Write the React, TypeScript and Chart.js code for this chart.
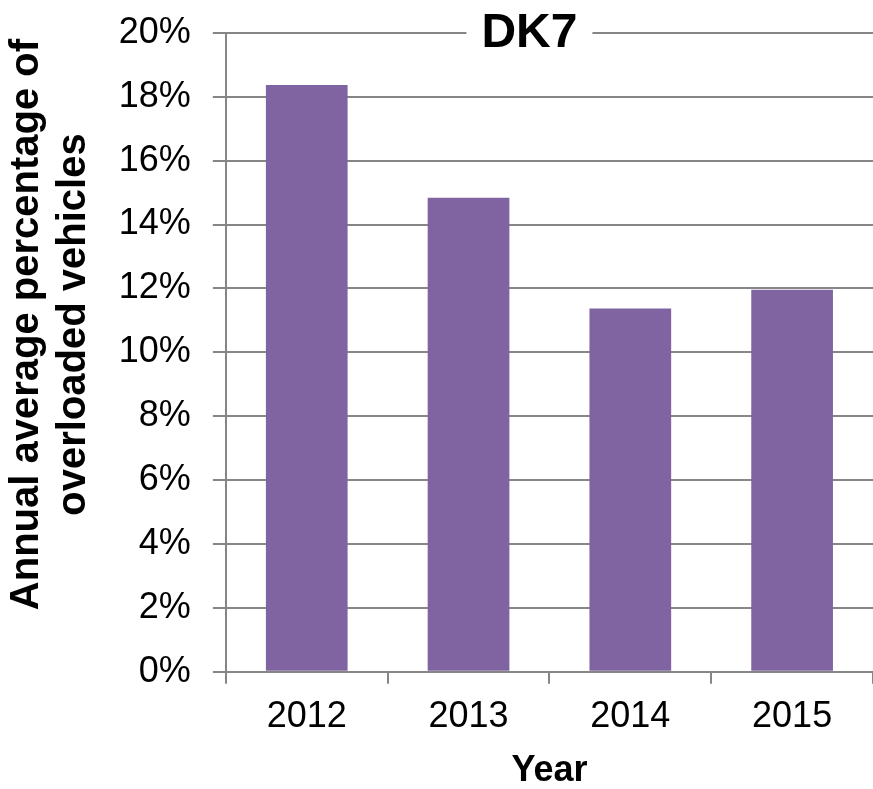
import React, { useEffect, useRef } from "react";
import { Chart, registerables } from "chart.js";

Chart.register(...registerables);

const categories = ["2012", "2013", "2014", "2015"];
const overloadedPct = [18.37, 14.84, 11.37, 11.96];
const yTicksMin = 0;
const yTicksMax = 20;
const yTickStep = 2;
const chartTitle = "DK7";
const yAxisTitle = ["Annual average percentage of", "overloaded vehicles"];
const xAxisTitle = "Year";

const GRID = "#868686";
const BAR = "#8064A2";
const FONT = "'Liberation Sans', Arial, sans-serif";
// leading spacing nudges the rotated y title slightly toward the top, as in the original
const Y_TITLE_SHIFT = "\u00a0\u00a0\u00a0\u00a0\u00a0";

const overlayTitle = {
  id: "overlayTitle",
  afterDraw(chart: any) {
    const { ctx, chartArea, scales } = chart;
    const y = scales.y.getPixelForValue(yTicksMax);
    const x = (chartArea.left + chartArea.right) / 2 - 20;
    ctx.save();
    ctx.font = `bold 48px ${FONT}`;
    const w = ctx.measureText(chartTitle).width;
    ctx.fillStyle = "#ffffff";
    ctx.fillRect(x - w / 2 - 15, y - 28, w + 30, 56);
    ctx.fillStyle = "#000000";
    ctx.textAlign = "center";
    ctx.textBaseline = "middle";
    ctx.fillText(chartTitle, x, y + 1);
    ctx.restore();
  },
};

export default function App() {
  const ref = useRef<HTMLCanvasElement | null>(null);
  useEffect(() => {
    if (!ref.current) return;
    const chart = new Chart(ref.current, {
      type: "bar",
      data: {
        labels: categories,
        datasets: [
          {
            data: overloadedPct,
            backgroundColor: BAR,
            borderWidth: 0,
            barPercentage: 0.505,
            categoryPercentage: 1,
          },
        ],
      },
      options: {
        animation: false,
        responsive: false,
        maintainAspectRatio: false,
        layout: { padding: { top: 0, right: 0, left: 4, bottom: 0 } },
        plugins: {
          legend: { display: false },
          title: { display: false },
          tooltip: { enabled: false },
        },
        scales: {
          x: {
            grid: {
              display: true,
              drawOnChartArea: false,
              drawTicks: true,
              tickLength: 12,
              color: GRID,
              lineWidth: 2,
              offset: true,
            },
            border: { display: true, color: GRID, width: 2 },
            ticks: {
              color: "#000",
              font: { family: FONT, size: 36 },
              padding: 12,
            },
            title: {
              display: true,
              text: xAxisTitle,
              color: "#000",
              font: { family: FONT, size: 36, weight: "bold", lineHeight: 1.0 },
              padding: { top: 2, bottom: 0 },
            },
          },
          y: {
            min: yTicksMin,
            max: yTicksMax,
            ticks: {
              stepSize: yTickStep,
              color: "#000",
              font: { family: FONT, size: 36, lineHeight: 0.6 },
              padding: 22,
              callback: (v: any) => `${v}%`,
            },
            grid: {
              color: GRID,
              lineWidth: 2,
              tickLength: 13,
            },
            border: { display: true, color: GRID, width: 2 },
            title: {
              display: true,
              text: yAxisTitle.map((s) => Y_TITLE_SHIFT + s),
              color: "#000",
              font: { family: FONT, size: 40, weight: "bold", lineHeight: 1.16 },
              padding: { top: 0, bottom: 0 },
            },
          },
        },
      },
      plugins: [overlayTitle],
    });
    return () => chart.destroy();
  }, []);
  return (
    <div style={{ position: "absolute", left: 0, top: 0, width: 873, height: 789, background: "#fff" }}>
      <canvas ref={ref} width={873} height={789} style={{ display: "block" }} />
    </div>
  );
}
